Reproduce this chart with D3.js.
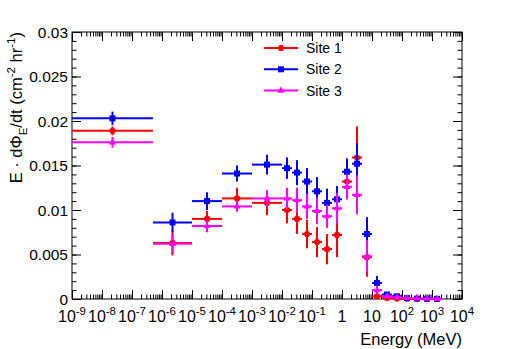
<!DOCTYPE html>
<html>
<head>
<meta charset="utf-8">
<script src="https://cdn.jsdelivr.net/npm/d3@7"></script>
<style>
  body { margin: 0; background: #fff; }
  svg { display: block; font-family: "Liberation Sans", Arial, sans-serif; }
</style>
</head>
<body>
<svg width="514" height="349"></svg>
<script>
// bin edges in MeV (first 5 wide bins, then 1/3 decade bins)
const binEdges = [1e-9, 5e-7, 1e-5, 1e-4, 1e-3, 1e-2, 0.0215, 0.0464, 0.1, 0.215, 0.464,
  1, 2.15, 4.64, 10, 21.5, 46.4, 100, 215, 464, 1000, 2150];

const site1 = [0.0189, 0.0063, 0.0090, 0.0113, 0.0108, 0.0100, 0.0090, 0.0073, 0.0064, 0.0056, 0.0072,
  0.0132, 0.0159, 0.0047, 0.0003, 0.0001, 0.00005, 0.00003, 0.00002, 0.00001, 0.00001];
const site1Err = [0.0005, 0.0014, 0.0009, 0.0012, 0.0014, 0.0015, 0.0017, 0.0016, 0.0017, 0.0017, 0.0025,
  0.0018, 0.0035, 0.0022, 0.0003, 0.0001, 0.00005, 0.00003, 0.00002, 0.00001, 0.00001];

const site2 = [0.0203, 0.0086, 0.0110, 0.0141, 0.0151, 0.0147, 0.0142, 0.0132, 0.0121, 0.0108, 0.0112,
  0.0143, 0.0152, 0.0073, 0.0018, 0.0005, 0.0003, 0.0001, 0.00005, 0.00003, 0.00002];
const site2Err = [0.00075, 0.0011, 0.0010, 0.0009, 0.0011, 0.0012, 0.0014, 0.0015, 0.0016, 0.0016, 0.0015,
  0.0015, 0.0023, 0.0019, 0.0008, 0.0003, 0.0002, 0.0001, 0.00005, 0.00003, 0.00002];

const site3 = [0.0176, 0.0062, 0.0082, 0.0104, 0.0113, 0.0113, 0.0111, 0.0104, 0.0099, 0.0093, 0.0102,
  0.0126, 0.0117, 0.0048, 0.0010, 0.0003, 0.0002, 0.0001, 0.00005, 0.00003, 0.00002];
const site3Err = [0.0006, 0.0010, 0.0007, 0.0006, 0.0009, 0.0012, 0.0014, 0.0014, 0.0015, 0.0013, 0.0017,
  0.0014, 0.0022, 0.0018, 0.0005, 0.0002, 0.0001, 0.0001, 0.00005, 0.00003, 0.00002];

const xExponents = [-9, -8, -7, -6, -5, -4, -3, -2, -1, 0, 1, 2, 3, 4];
const yTicks = [0, 0.005, 0.01, 0.015, 0.02, 0.025, 0.03];
const yTickLabels = ["0", "0.005", "0.01", "0.015", "0.02", "0.025", "0.03"];

const series = [
  { name: "Site 1", vals: site1, errs: site1Err, color: "#ff0000", shape: "circle" },
  { name: "Site 2", vals: site2, errs: site2Err, color: "#0000ff", shape: "square" },
  { name: "Site 3", vals: site3, errs: site3Err, color: "#ff00ff", shape: "triangle" }
];

const svg = d3.select("svg");
const frame = { left: 72, right: 462, top: 32, bottom: 299 };

const xScale = d3.scaleLog().domain([1e-9, 1e4]).range([frame.left, frame.right]);
const yScale = d3.scaleLinear().domain([0, 0.03]).range([frame.bottom, frame.top]);

const majorX = xExponents.map(e => Math.pow(10, e));
const minorX = [];
xExponents.slice(0, -1).forEach(e => {
  for (let k = 2; k <= 9; k++) minorX.push(k * Math.pow(10, e));
});
const minorY = d3.range(0, 31).map(i => i * 0.001);

const axisColor = "#000";

// ticks (ROOT style, all pointing inwards on four sides)
const drawAxis = (axis, tx, ty) => {
  const g = svg.append("g").attr("transform", `translate(${tx},${ty})`).call(axis);
  g.select(".domain").remove();
  g.selectAll("line").attr("stroke", axisColor).attr("stroke-width", 1);
  g.selectAll("text").remove();
  return g;
};

drawAxis(d3.axisBottom(xScale).tickValues(majorX).tickSize(-9), 0, frame.bottom);
drawAxis(d3.axisBottom(xScale).tickValues(minorX).tickSize(-4.5), 0, frame.bottom);
drawAxis(d3.axisTop(xScale).tickValues(majorX).tickSize(-9), 0, frame.top);
drawAxis(d3.axisTop(xScale).tickValues(minorX).tickSize(-4.5), 0, frame.top);
drawAxis(d3.axisLeft(yScale).tickValues(yTicks).tickSize(-9), frame.left, 0);
drawAxis(d3.axisLeft(yScale).tickValues(minorY).tickSize(-4.5), frame.left, 0);
drawAxis(d3.axisRight(yScale).tickValues(yTicks).tickSize(-9), frame.right, 0);
drawAxis(d3.axisRight(yScale).tickValues(minorY).tickSize(-4.5), frame.right, 0);

svg.append("rect")
  .attr("x", frame.left).attr("y", frame.top)
  .attr("width", frame.right - frame.left).attr("height", frame.bottom - frame.top)
  .attr("fill", "none").attr("stroke", axisColor).attr("stroke-width", 1);

// y tick labels
svg.append("g").selectAll("text").data(yTicks).enter().append("text")
  .attr("x", 68)
  .attr("y", d => yScale(d))
  .attr("dy", "0.36em")
  .attr("text-anchor", "end")
  .attr("font-size", 15.5)
  .text((d, i) => yTickLabels[i]);

// x tick labels with superscripts
xExponents.forEach(e => {
  const t = svg.append("text")
    .attr("x", xScale(Math.pow(10, e)))
    .attr("y", 322)
    .attr("text-anchor", "middle")
    .attr("font-size", 16);
  if (e === 0) t.text("1");
  else if (e === 1) t.text("10");
  else {
    t.append("tspan").text("10");
    t.append("tspan").attr("dy", -7).attr("font-size", 11.5).text(e);
  }
});

// axis titles
svg.append("text")
  .attr("x", frame.right)
  .attr("y", 345)
  .attr("text-anchor", "end")
  .attr("font-size", 16.5)
  .text("Energy (MeV)");

const yTitle = svg.append("text")
  .attr("transform", `translate(22,${frame.top}) rotate(-90)`)
  .attr("text-anchor", "end")
  .attr("font-size", 16.5);
yTitle.append("tspan").text("E \u00b7 d\u03a6");
yTitle.append("tspan").attr("dy", 5).attr("font-size", 11.5).text("E");
yTitle.append("tspan").attr("dy", -5).text("/dt (cm");
yTitle.append("tspan").attr("dy", -7).attr("font-size", 11.5).text("-2");
yTitle.append("tspan").attr("dy", 7).text(" hr");
yTitle.append("tspan").attr("dy", -7).attr("font-size", 11.5).text("-1");
yTitle.append("tspan").attr("dy", 7).text(")");

// markers
const markerPath = (shape) => {
  if (shape === "circle") return d3.symbol().type(d3.symbolCircle).size(30)();
  if (shape === "square") return d3.symbol().type(d3.symbolSquare).size(36)();
  return d3.symbol().type(d3.symbolTriangle).size(22)();
};

const plot = svg.append("g");

series.forEach(s => {
  const data = s.vals.map((v, i) => ({
    lo: binEdges[i],
    hi: binEdges[i + 1],
    mid: Math.sqrt(binEdges[i] * binEdges[i + 1]),
    v: v,
    e: s.errs[i]
  }));
  const g = plot.append("g");
  g.selectAll(".h").data(data).enter().append("line")
    .attr("x1", d => xScale(d.lo)).attr("x2", d => xScale(d.hi))
    .attr("y1", d => yScale(d.v)).attr("y2", d => yScale(d.v))
    .attr("stroke", s.color).attr("stroke-width", 2);
  g.selectAll(".v").data(data).enter().append("line")
    .attr("x1", d => xScale(d.mid)).attr("x2", d => xScale(d.mid))
    .attr("y1", d => yScale(Math.max(0, d.v - d.e))).attr("y2", d => yScale(d.v + d.e))
    .attr("stroke", s.color).attr("stroke-width", 2);
  g.selectAll("path").data(data).enter().append("path")
    .attr("d", markerPath(s.shape))
    .attr("transform", d => `translate(${xScale(d.mid)},${yScale(d.v)})`)
    .attr("fill", s.color);
});

// legend
const legend = svg.append("g");
series.forEach((s, i) => {
  const ly = 48 + i * 21.3;
  legend.append("line")
    .attr("x1", 264).attr("x2", 298).attr("y1", ly).attr("y2", ly)
    .attr("stroke", s.color).attr("stroke-width", 2);
  legend.append("path")
    .attr("d", markerPath(s.shape))
    .attr("transform", `translate(281,${ly})`)
    .attr("fill", s.color);
  legend.append("text")
    .attr("x", 306).attr("y", ly)
    .attr("dy", "0.36em")
    .attr("font-size", 14)
    .text(s.name);
});
</script>
</body>
</html>
